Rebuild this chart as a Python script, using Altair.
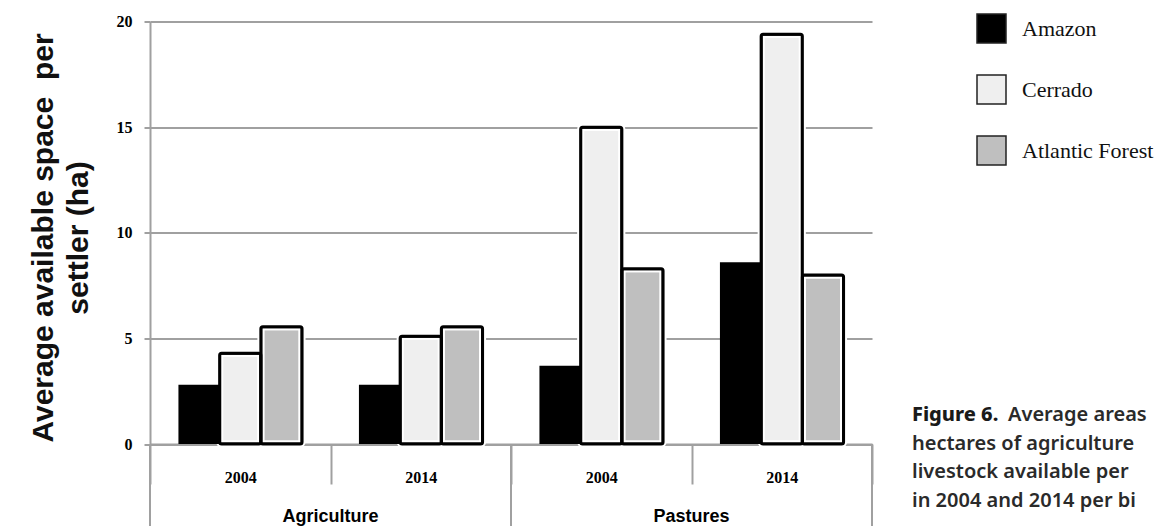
import altair as alt
import pandas as pd

# ---- data ----
categories = ["Agriculture", "Agriculture", "Pastures", "Pastures"]
years = ["2004", "2014", "2004", "2014"]
biomes = ["Amazon", "Cerrado", "Atlantic Forest"]
amazon = [2.8, 2.8, 3.7, 8.6]
cerrado = [4.3, 5.1, 15.0, 19.4]
atlantic = [5.55, 5.55, 8.3, 8.0]
biome_colors = ["#000000", "#efefef", "#bfbfbf"]
y_ticks = [0, 5, 10, 15, 20]
cat_names = ["Agriculture", "Pastures"]
y_title = ["Average available space\u00a0 per", "settler (ha)"]
caption_bold = "Figure 6."
caption_lines = ["Average areas", "hectares of agriculture", "livestock available per", "in 2004 and 2014 per bi"]

rows = []
for i, (c, yr) in enumerate(zip(categories, years)):
    for b, vals in zip(biomes, [amazon, cerrado, atlantic]):
        rows.append({"group": f"{c} {yr}", "category": c, "year": yr, "biome": b, "value": vals[i]})
df = pd.DataFrame(rows)
group_order = [f"{c} {y}" for c, y in zip(categories, years)]
cat_df = pd.DataFrame({"cat": cat_names})

W = 722
H = 422.5
GRAY = "#a0a0a0"

x_enc = alt.X(
    "group:N",
    sort=group_order,
    scale=alt.Scale(domain=group_order, paddingInner=0, paddingOuter=0),
    axis=alt.Axis(
        title=None,
        labelExpr="split(datum.label, ' ')[1]",
        labelAngle=0,
        tickBand="extent",
        tickSize=40,
        tickColor=GRAY,
        tickWidth=2,
        domainColor=GRAY,
        domainWidth=2,
        labelFont="Liberation Serif",
        labelFontWeight="bold",
        labelFontSize=16,
        labelColor="black",
        labelPadding=-7,
        labelBaseline="middle",
        grid=False,
    ),
)
xoff_enc = alt.XOffset("biome:N", sort=biomes,
                       scale=alt.Scale(domain=biomes, paddingInner=0, paddingOuter=0.69))
y_enc = alt.Y(
    "value:Q",
    scale=alt.Scale(domain=[0, 20], nice=False),
    axis=alt.Axis(
        values=y_ticks,
        title=y_title,
        titleFont="Liberation Sans",
        titleFontSize=30,
        titleFontWeight="bold",
        titleColor="#111111",
        titleAngle=270,
        titleAlign="center",
        titleBaseline="top",
        titleLineHeight=35,
        titleX=-122,
        titleY=216,
        labelFont="Liberation Serif",
        labelFontWeight="bold",
        labelFontSize=16,
        labelColor="black",
        labelPadding=12,
        tickSize=6,
        tickColor=GRAY,
        tickWidth=2,
        domainColor=GRAY,
        domainWidth=2,
        grid=True,
        gridColor=GRAY,
        gridWidth=2,
    ),
)
color_enc = alt.Color(
    "biome:N",
    sort=biomes,
    scale=alt.Scale(domain=biomes, range=biome_colors),
    legend=alt.Legend(
        title=None,
        orient="none",
        legendX=826,
        legendY=-8.5,
        symbolType="square",
        symbolSize=841,
        symbolStrokeColor="#222222",
        symbolStrokeWidth=1.5,
        labelFont="Liberation Serif",
        labelFontSize=22,
        labelColor="#111111",
        labelOffset=15,
        rowPadding=26,
    ),
)

base = alt.Chart(df).encode(x=x_enc, xOffset=xoff_enc, y=y_enc)

# light bars: fill + white halo (gives the white inner band and gaps in gridlines)
light = base.transform_filter("datum.biome != 'Amazon'").mark_bar(
    stroke="white", strokeWidth=7, cornerRadius=2
).encode(color=color_enc)
dark = base.transform_filter("datum.biome == 'Amazon'").mark_bar().encode(color=color_enc)
outline = base.transform_filter("datum.biome != 'Amazon'").mark_bar(
    fillOpacity=0, stroke="black", strokeWidth=3, cornerRadius=2
)
bars = alt.layer(light, dark, outline)

cat_scale = alt.Scale(domain=cat_names, paddingInner=0, paddingOuter=0)

rule_start = alt.Chart(cat_df).mark_rule(color=GRAY, strokeWidth=2).encode(
    x=alt.X("cat:N", bandPosition=0, scale=cat_scale, axis=None),
    y=alt.datum(0),
    y2=alt.value(H + 82),
)
rule_end = alt.Chart(cat_df).mark_rule(color=GRAY, strokeWidth=2).encode(
    x=alt.X("cat:N", bandPosition=1, scale=cat_scale, axis=None),
    y=alt.datum(0),
    y2=alt.value(H + 82),
)
cat_text = alt.Chart(cat_df).mark_text(
    font="Liberation Sans", fontWeight="bold", fontSize=18, baseline="middle", color="black"
).encode(
    x=alt.X("cat:N", bandPosition=0.5, scale=cat_scale, axis=None),
    y=alt.value(H + 73),
    text="cat:N",
)
cats = alt.layer(rule_start, rule_end, cat_text)

cap_bold = alt.Chart(pd.DataFrame({"t": [caption_bold]})).mark_text(
    font="Noto Sans", fontWeight=800, fontSize=20, align="left", baseline="alphabetic", color="#1a1a1a"
).encode(x=alt.value(W + 40), y=alt.value(H - 23), text="t:N")

cap_layers = []
for i, line in enumerate(caption_lines):
    cap_layers.append(
        alt.Chart(pd.DataFrame({"t": [line]})).mark_text(
            font="Noto Sans", fontWeight=600, fontSize=20, align="left",
            baseline="alphabetic", color="#2a2a2a",
            dx=96 if i == 0 else 0, dy=28.6 * i,
        ).encode(x=alt.value(W + 40), y=alt.value(H - 23), text="t:N")
    )

chart = alt.layer(bars, cats, cap_bold, *cap_layers).resolve_scale(
    x="independent"
).properties(
    width=W,
    height=H,
    autosize=alt.AutoSizeParams(type="none"),
    padding={"left": 142, "top": 13.5, "right": 283, "bottom": 82},
    background="white",
).configure_view(stroke=None)

chart.save("out.html", embed_options={"renderer": "svg", "actions": False})
